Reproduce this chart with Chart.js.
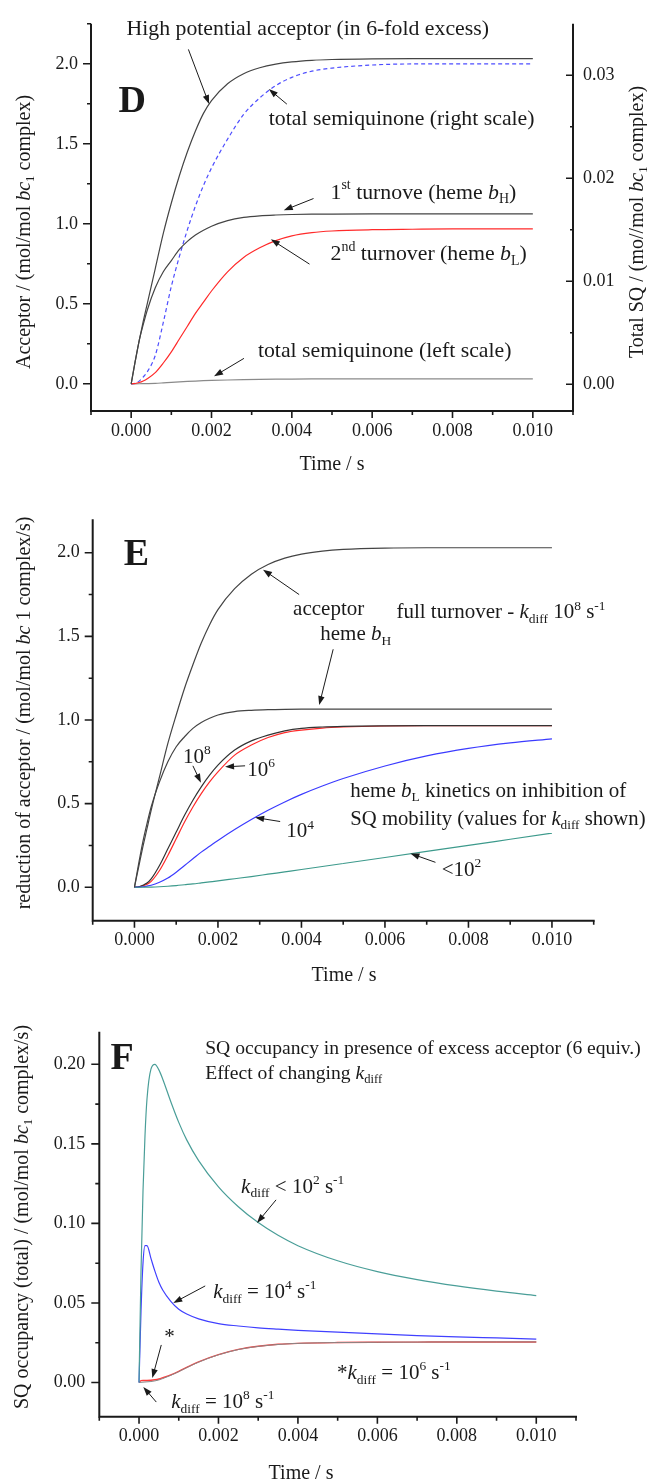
<!DOCTYPE html>
<html>
<head>
<meta charset="utf-8">
<script src="https://cdn.jsdelivr.net/npm/chart.js@4.4.0/dist/chart.umd.min.js"></script>
<style>
  body { margin: 0; background: #fff; }
  .panel { position: absolute; left: 0; }
</style>
</head>
<body>
<canvas id="panel-d" class="panel" width="647" height="490" style="top:0px"></canvas>
<canvas id="panel-e" class="panel" width="647" height="510" style="top:480px"></canvas>
<canvas id="panel-f" class="panel" width="647" height="492" style="top:990px"></canvas>
<script>
// time axis (s) shared by panels D and E
var timeDE = [0, 0.0001, 0.0002, 0.0003, 0.0004, 0.0006, 0.0008, 0.001, 0.0012, 0.0014, 0.0016, 0.0018, 0.002,
  0.0024, 0.0028, 0.0032, 0.0036, 0.004, 0.0045, 0.005, 0.006, 0.007, 0.008, 0.009, 0.01];

// panel D
var acceptorD = [0, 0.14, 0.27, 0.39, 0.5, 0.72, 0.94, 1.13, 1.3, 1.45, 1.58, 1.69, 1.77, 1.875, 1.938, 1.975, 1.998, 2.012, 2.022, 2.027, 2.031, 2.032, 2.032, 2.032, 2.032];
var hemeBHD = [0, 0.14, 0.27, 0.37, 0.46, 0.6, 0.7, 0.77, 0.84, 0.89, 0.93, 0.96, 0.985, 1.02, 1.04, 1.05, 1.055, 1.058, 1.06, 1.061, 1.062, 1.062, 1.062, 1.062, 1.062];
var hemeBLD = [0, 0.002, 0.008, 0.018, 0.032, 0.07, 0.13, 0.2, 0.28, 0.36, 0.44, 0.51, 0.58, 0.7, 0.79, 0.85, 0.895, 0.925, 0.945, 0.955, 0.963, 0.966, 0.968, 0.968, 0.968];
var totalSQD = [0, 0.0001, 0.0003, 0.0007, 0.0012, 0.0028, 0.006, 0.0095, 0.0124, 0.015, 0.0173, 0.0193, 0.021, 0.0238, 0.0262, 0.0278, 0.029, 0.0298, 0.0304, 0.0307, 0.031, 0.0311, 0.0311, 0.0311, 0.0311];

// panel E
var acceptorE = [0, 0.12, 0.24, 0.35, 0.46, 0.66, 0.86, 1.03, 1.19, 1.33, 1.46, 1.57, 1.66, 1.785, 1.872, 1.93, 1.968, 1.992, 2.01, 2.02, 2.028, 2.03, 2.03, 2.03, 2.03];
var hemeBHE = [0, 0.14, 0.27, 0.38, 0.48, 0.63, 0.75, 0.84, 0.9, 0.95, 0.985, 1.01, 1.03, 1.05, 1.058, 1.062, 1.064, 1.065, 1.065, 1.065, 1.065, 1.065, 1.065, 1.065, 1.065];
var hemeBL_1e8E = [0, 0.003, 0.012, 0.025, 0.05, 0.13, 0.23, 0.33, 0.43, 0.52, 0.6, 0.67, 0.73, 0.82, 0.875, 0.91, 0.935, 0.95, 0.958, 0.962, 0.965, 0.966, 0.966, 0.966, 0.966];
var hemeBL_1e6E = [0, 0.002, 0.008, 0.018, 0.035, 0.1, 0.19, 0.29, 0.39, 0.48, 0.56, 0.63, 0.69, 0.79, 0.85, 0.895, 0.925, 0.94, 0.952, 0.958, 0.964, 0.966, 0.966, 0.966, 0.966];
var hemeBL_1e4E = [0, 0.001, 0.003, 0.007, 0.012, 0.03, 0.055, 0.09, 0.13, 0.17, 0.21, 0.245, 0.28, 0.345, 0.405, 0.46, 0.51, 0.555, 0.605, 0.65, 0.725, 0.785, 0.83, 0.863, 0.887];
var hemeBL_1e2E = [0, 0, 0, 0.0005, 0.001, 0.003, 0.006, 0.01, 0.015, 0.02, 0.026, 0.032, 0.038, 0.051, 0.064, 0.078, 0.092, 0.106, 0.124, 0.142, 0.178, 0.214, 0.25, 0.287, 0.324];

// panel F
var timeF = [0, 0.00005, 0.0001, 0.00015, 0.0002, 0.0003, 0.0004, 0.0005, 0.0006, 0.0008, 0.001, 0.0012, 0.0015,
  0.002, 0.0025, 0.003, 0.0035, 0.004, 0.005, 0.006, 0.007, 0.008, 0.009, 0.01];
var sq_1e2F = [0, 0.07, 0.12, 0.155, 0.178, 0.197, 0.2, 0.1965, 0.1905, 0.1765, 0.1635, 0.1525, 0.1395, 0.123, 0.1105, 0.1005, 0.0925, 0.086, 0.0765, 0.0697, 0.0647, 0.0607, 0.0574, 0.0546];
var sq_1e4F = [0, 0.045, 0.075, 0.086, 0.086, 0.078, 0.07, 0.063, 0.058, 0.051, 0.046, 0.043, 0.04, 0.037, 0.0355, 0.0343, 0.0335, 0.0328, 0.0316, 0.0305, 0.0295, 0.0287, 0.028, 0.0273];
var sq_1e6F = [0, 0.0012, 0.0013, 0.0013, 0.0013, 0.0014, 0.0017, 0.0022, 0.003, 0.0048, 0.007, 0.0095, 0.013, 0.0175, 0.0208, 0.0228, 0.024, 0.0246, 0.0251, 0.0253, 0.0254, 0.0255, 0.0255, 0.0255];
var sq_1e8F = [0, 0.0001, 0.0002, 0.0003, 0.0004, 0.0006, 0.001, 0.0016, 0.0025, 0.0045, 0.0068, 0.0093, 0.0128, 0.0174, 0.0207, 0.0227, 0.0239, 0.0246, 0.0251, 0.0253, 0.0254, 0.0255, 0.0255, 0.0255];

// tick labels
var timeTicks = [0, 0.002, 0.004, 0.006, 0.008, 0.010];
var acceptorTicks = [0, 0.5, 1.0, 1.5, 2.0];
var sqRightTicks = [0, 0.01, 0.02, 0.03];
var sqTicksF = [0, 0.05, 0.10, 0.15, 0.20];

var SERIF = "'Liberation Serif', 'Times New Roman', serif";
var INK = "#1a1a1a";

function pairs(xs, ys) {
  return xs.map(function (x, i) { return { x: x, y: ys[i] }; });
}

function fontFor(style, size) {
  var s = style || "";
  var small = s.indexOf("b") >= 0 || s.indexOf("p") >= 0;
  return (s.indexOf("i") >= 0 ? "italic " : "") + (s.indexOf("B") >= 0 ? "bold " : "") +
    (small ? size * 0.64 : size) + "px " + SERIF;
}

// draws text made of styled parts: [text, style] with i=italic, B=bold, b=subscript, p=superscript
function drawRich(ctx, parts, x, y, size, align) {
  var w = 0;
  parts.forEach(function (p) { ctx.font = fontFor(p[1], size); w += ctx.measureText(p[0]).width; });
  var cx = align === "center" ? x - w / 2 : x;
  ctx.textAlign = "left";
  ctx.textBaseline = "alphabetic";
  parts.forEach(function (p) {
    var s = p[1] || "";
    ctx.font = fontFor(s, size);
    var dy = s.indexOf("b") >= 0 ? size * 0.22 : (s.indexOf("p") >= 0 ? -size * 0.42 : 0);
    ctx.fillText(p[0], cx, y + dy);
    cx += ctx.measureText(p[0]).width;
  });
}

function drawArrow(ctx, x1, y1, x2, y2) {
  var a = Math.atan2(y2 - y1, x2 - x1), L = 9, W = 3.2;
  ctx.lineWidth = 1;
  ctx.beginPath();
  ctx.moveTo(x1, y1);
  ctx.lineTo(x2 - Math.cos(a) * L * 0.8, y2 - Math.sin(a) * L * 0.8);
  ctx.stroke();
  ctx.beginPath();
  ctx.moveTo(x2, y2);
  ctx.lineTo(x2 - L * Math.cos(a) + W * Math.sin(a), y2 - L * Math.sin(a) - W * Math.cos(a));
  ctx.lineTo(x2 - L * Math.cos(a) - W * Math.sin(a), y2 - L * Math.sin(a) + W * Math.cos(a));
  ctx.closePath();
  ctx.fill();
}

// axis lines, major/minor tick marks, annotations and titles
var figurePlugin = {
  id: "figure",
  afterDraw: function (chart, args, opts) {
    var ctx = chart.ctx, area = chart.chartArea;
    var sx = chart.scales.x, sy = chart.scales.y, sy2 = chart.scales.y2;
    ctx.save();
    ctx.strokeStyle = INK;
    ctx.fillStyle = INK;

    ctx.lineWidth = 2;
    ctx.beginPath();
    ctx.moveTo(area.left, area.top);
    ctx.lineTo(area.left, area.bottom);
    ctx.moveTo(area.left - 1, area.bottom);
    ctx.lineTo(area.right + 1, area.bottom);
    if (sy2) {
      ctx.moveTo(area.right, area.top);
      ctx.lineTo(area.right, area.bottom);
    }
    ctx.stroke();

    ctx.lineWidth = 1.6;
    ctx.beginPath();
    sx.ticks.forEach(function (t) {
      var px = sx.getPixelForValue(t.value);
      ctx.moveTo(px, area.bottom); ctx.lineTo(px, area.bottom + 7);
    });
    (opts.minorX || []).forEach(function (v) {
      var px = sx.getPixelForValue(v);
      ctx.moveTo(px, area.bottom); ctx.lineTo(px, area.bottom + 4);
    });
    sy.ticks.forEach(function (t) {
      var py = sy.getPixelForValue(t.value);
      ctx.moveTo(area.left, py); ctx.lineTo(area.left - 8, py);
    });
    (opts.minorY || []).forEach(function (v) {
      var py = sy.getPixelForValue(v);
      ctx.moveTo(area.left, py); ctx.lineTo(area.left - 4, py);
    });
    if (sy2) {
      sy2.ticks.forEach(function (t) {
        var py = sy2.getPixelForValue(t.value);
        ctx.moveTo(area.right, py); ctx.lineTo(area.right - 7, py);
      });
      (opts.minorY2 || []).forEach(function (v) {
        var py = sy2.getPixelForValue(v);
        ctx.moveTo(area.right, py); ctx.lineTo(area.right - 3, py);
      });
    }
    ctx.stroke();

    (opts.arrows || []).forEach(function (a) {
      drawArrow(ctx, sx.getPixelForValue(a[0]), sy.getPixelForValue(a[1]),
        sx.getPixelForValue(a[2]), sy.getPixelForValue(a[3]));
    });
    (opts.notes || []).forEach(function (n) {
      drawRich(ctx, n.p, sx.getPixelForValue(n.t), sy.getPixelForValue(n.v), n.size || opts.noteSize || 21, "left");
    });
    (opts.titles || []).forEach(function (tt) {
      ctx.save();
      ctx.translate(tt.x, tt.y);
      if (tt.rot) ctx.rotate(tt.rot * Math.PI / 180);
      drawRich(ctx, tt.p, 0, 0, tt.size || 20, "center");
      ctx.restore();
    });
    ctx.restore();
  }
};

function line(data, color, axis, dash, width) {
  return {
    data: data,
    borderColor: color,
    borderWidth: width || 1.2,
    borderDash: dash || [],
    pointRadius: 0,
    cubicInterpolationMode: "monotone",
    yAxisID: axis || "y",
    fill: false
  };
}

function tickFont() {
  return { family: SERIF, size: 18 };
}

function timeScale(height) {
  return {
    type: "linear", min: -0.001, max: 0.011,
    grid: { display: false, drawTicks: false }, border: { display: false },
    afterBuildTicks: function (s) { s.ticks = timeTicks.map(function (v) { return { value: v }; }); },
    afterFit: function (s) { s.height = height; },
    ticks: { callback: function (v) { return v.toFixed(3); }, font: tickFont(), color: INK, padding: 9, maxRotation: 0, autoSkip: false }
  };
}

function valueScale(min, max, ticks, digits, width, pad, position) {
  return {
    type: "linear", min: min, max: max, position: position || "left",
    grid: { display: false, drawTicks: false }, border: { display: false },
    afterBuildTicks: function (s) { s.ticks = ticks.map(function (v) { return { value: v }; }); },
    afterFit: function (s) { s.width = width; },
    ticks: { callback: function (v) { return v.toFixed(digits); }, font: tickFont(), color: INK, padding: pad, autoSkip: false }
  };
}

var minorTime = [-0.001, 0.001, 0.003, 0.005, 0.007, 0.009, 0.011];

function baseOptions(padding, scales, figure) {
  return {
    responsive: false,
    animation: false,
    devicePixelRatio: 1,
    layout: { padding: padding },
    scales: scales,
    plugins: { legend: { display: false }, tooltip: { enabled: false }, figure: figure }
  };
}

// ---------- panel D ----------
new Chart(document.getElementById("panel-d").getContext("2d"), {
  type: "line",
  data: {
    datasets: [
      line(pairs(timeDE, acceptorD), "#444"),
      line(pairs(timeDE, hemeBHD), "#444"),
      line(pairs(timeDE, hemeBLD), "#ff2a2a"),
      line(pairs(timeDE, totalSQD), "#8a8a8a"),
      line(pairs(timeDE, totalSQD), "#4d4dff", "y2", [4, 3])
    ]
  },
  options: baseOptions({ top: 21, left: 0, right: 0, bottom: 0 }, {
    x: timeScale(79),
    y: valueScale(-0.17, 2.25, acceptorTicks, 1, 91, 13),
    y2: valueScale(-0.0026, 0.035, sqRightTicks, 2, 74, 10, "right")
  }, {
    noteSize: 21.8,
    minorX: minorTime,
    minorY: [0.25, 0.75, 1.25, 1.75, 2.25],
    minorY2: [0.005, 0.015, 0.025],
    notes: [
      { p: [["D", "B"]], t: -0.000315, v: 1.699, size: 38 },
      { p: [["High potential acceptor (in 6-fold excess)"]], t: -0.000117, v: 2.183 },
      { p: [["total semiquinone (right scale)"]], t: 0.003427, v: 1.618 },
      { p: [["1"], ["st", "p"], [" turnove (heme "], ["b", "i"], ["H", "b"], [")"]], t: 0.004963, v: 1.158 },
      { p: [["2"], ["nd", "p"], [" turnover (heme "], ["b", "i"], ["L", "b"], [")"]], t: 0.004963, v: 0.773 },
      { p: [["total semiquinone (left scale)"]], t: 0.003155, v: 0.165 }
    ],
    arrows: [
      [0.001425, 2.09, 0.00194, 1.748],
      [0.003876, 1.748, 0.003427, 1.842],
      [0.00454, 1.158, 0.0038, 1.084],
      [0.00444, 0.748, 0.003477, 0.903],
      [0.002808, 0.159, 0.002064, 0.047]
    ],
    titles: [
      { p: [["Time / s"]], x: 332, y: 470 },
      { p: [["Acceptor / (mol/mol "], ["bc", "i"], ["1", "b"], [" complex)"]], x: 30, y: 232, rot: -90 },
      { p: [["Total SQ / (mo//mol "], ["bc", "i"], ["1", "b"], [" complex)"]], x: 643, y: 222, rot: -90 }
    ]
  }),
  plugins: [figurePlugin]
});

// ---------- panel E ----------
new Chart(document.getElementById("panel-e").getContext("2d"), {
  type: "line",
  data: {
    datasets: [
      line(pairs(timeDE, acceptorE), "#444"),
      line(pairs(timeDE, hemeBHE), "#444"),
      line(pairs(timeDE, hemeBL_1e2E), "#3d9a8c"),
      line(pairs(timeDE, hemeBL_1e4E), "#3b3bff"),
      line(pairs(timeDE, hemeBL_1e8E), "#333"),
      line(pairs(timeDE, hemeBL_1e6E), "#ff2a2a")
    ]
  },
  options: baseOptions({ top: 39.3, left: 0, right: 53.3, bottom: 0 }, {
    x: timeScale(69.3),
    y: valueScale(-0.2, 2.2, acceptorTicks, 1, 92.7, 13)
  }, {
    noteSize: 21,
    minorX: minorTime,
    minorY: [0.25, 0.75, 1.25, 1.75],
    notes: [
      { p: [["E", "B"]], t: -0.000257, v: 1.929, size: 38 },
      { p: [["acceptor"]], t: 0.0038, v: 1.625 },
      { p: [["heme "], ["b", "i"], ["H", "b"]], t: 0.00445, v: 1.476 },
      { p: [["full turnover - "], ["k", "i"], ["diff", "b"], [" 10"], ["8", "p"], [" s"], ["-1", "p"]], t: 0.006274, v: 1.607 },
      { p: [["10"], ["8", "p"]], t: 0.00116, v: 0.744 },
      { p: [["10"], ["6", "p"]], t: 0.0027, v: 0.667 },
      { p: [["10"], ["4", "p"]], t: 0.003633, v: 0.298 },
      { p: [["<10"], ["2", "p"]], t: 0.00736, v: 0.0655 },
      { p: [["heme "], ["b", "i"], ["L", "b"], [" kinetics on inhibition of"]], t: 0.00517, v: 0.542 },
      { p: [["SQ mobility (values for "], ["k", "i"], ["diff", "b"], [" shown)"]], t: 0.00517, v: 0.375, size: 20.7 }
    ],
    arrows: [
      [0.003945, 1.75, 0.00308, 1.899],
      [0.00476, 1.423, 0.004425, 1.089],
      [0.0014, 0.726, 0.001592, 0.625],
      [0.00265, 0.726, 0.00217, 0.72],
      [0.00349, 0.393, 0.00289, 0.417],
      [0.00721, 0.149, 0.00661, 0.202]
    ],
    titles: [
      { p: [["Time / s"]], x: 344, y: 501 },
      { p: [["reduction of acceptor / (mol/mol "], ["bc", "i"], [" 1 complex/s)"]], x: 30, y: 233, rot: -90 }
    ]
  }),
  plugins: [figurePlugin]
});

// ---------- panel F ----------
new Chart(document.getElementById("panel-f").getContext("2d"), {
  type: "line",
  data: {
    datasets: [
      line(pairs(timeF, sq_1e2F), "#4a9e98"),
      line(pairs(timeF, sq_1e4F), "#4040ff"),
      line(pairs(timeF, sq_1e8F), "#888", "y", null, 1),
      line(pairs(timeF, sq_1e6F), "#ff3b3b", "y", null, 1.4)
    ]
  },
  options: baseOptions({ top: 41.7, left: 0, right: 71, bottom: 0 }, {
    x: timeScale(65.3),
    y: valueScale(-0.0215, 0.2205, sqTicksF, 2, 99.3, 14)
  }, {
    noteSize: 21,
    minorX: minorTime,
    minorY: [0.025, 0.075, 0.125, 0.175],
    notes: [
      { p: [["F", "B"]], t: -0.000721, v: 0.1972, size: 38 },
      { p: [["SQ occupancy in presence of excess acceptor (6 equiv.)"]], t: 0.001666, v: 0.2066, size: 19.6 },
      { p: [["Effect of changing "], ["k", "i"], ["diff", "b"]], t: 0.001666, v: 0.1909, size: 19.6 },
      { p: [["k", "i"], ["diff", "b"], [" < 10"], ["2", "p"], [" s"], ["-1", "p"]], t: 0.00257, v: 0.1192 },
      { p: [["k", "i"], ["diff", "b"], [" = 10"], ["4", "p"], [" s"], ["-1", "p"]], t: 0.001867, v: 0.0531 },
      { p: [["*"]], t: 0.000636, v: 0.0248 },
      { p: [["*"], ["k", "i"], ["diff", "b"], [" = 10"], ["6", "p"], [" s"], ["-1", "p"]], t: 0.004985, v: 0.0022 },
      { p: [["k", "i"], ["diff", "b"], [" = 10"], ["8", "p"], [" s"], ["-1", "p"]], t: 0.00081, v: -0.016 }
    ],
    arrows: [
      [0.00345, 0.1148, 0.00297, 0.1003],
      [0.001666, 0.0607, 0.000862, 0.05],
      [0.00056, 0.0236, 0.000334, 0.0028],
      [0.000435, -0.0123, 0.000108, -0.0028]
    ],
    titles: [
      { p: [["Time / s"]], x: 301, y: 489 },
      { p: [["SQ occupancy (total) / (mol/mol "], ["bc", "i"], ["1", "b"], [" complex/s)"]], x: 28, y: 227, rot: -90 }
    ]
  }),
  plugins: [figurePlugin]
});
</script>
</body>
</html>
